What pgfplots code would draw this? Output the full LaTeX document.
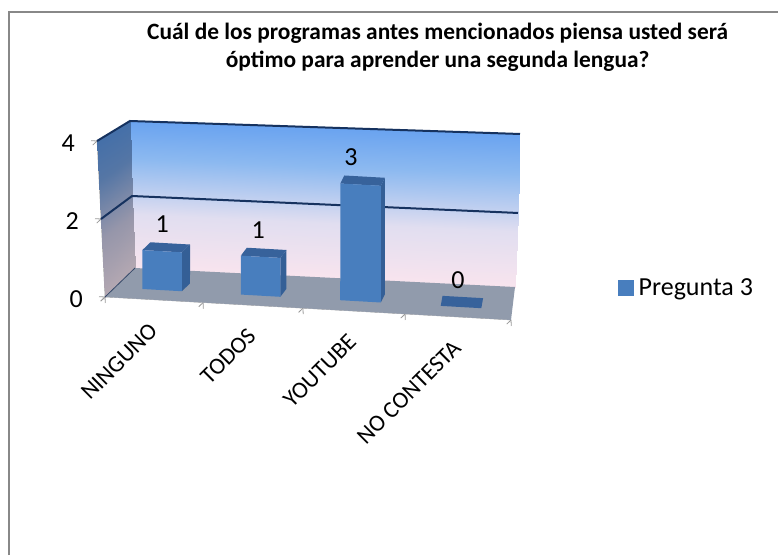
\documentclass[border=0pt]{standalone}
\usepackage{pgfplots}
\pgfplotsset{compat=1.18}
\usepackage{fontspec}
\setmainfont{Carlito}
\definecolor{barfront}{RGB}{72,126,190}
\definecolor{bartop}{RGB}{55,98,155}
\definecolor{barside}{RGB}{52,95,150}
\definecolor{gridnavy}{RGB}{22,50,95}
\definecolor{floorgray}{RGB}{145,155,172}
\definecolor{framegray}{RGB}{136,136,136}
\pgfplotsset{
  colormap={backwall}{rgb255(0)=(248,228,238) rgb255(2)=(225,222,240) rgb255(4)=(140,185,240) rgb255(6)=(88,152,240) rgb255(8)=(75,145,240)},
  colormap={leftwall}{rgb255(0)=(180,168,178) rgb255(2)=(150,150,170) rgb255(4)=(85,118,165) rgb255(6)=(60,108,170) rgb255(8)=(50,105,175)},
}
\begin{document}
\begin{tikzpicture}[x=1pt,y=1pt]
\path[use as bounding box] (0,0) rectangle (778,555);
\draw[framegray,line width=2pt] (9,0) -- (9,543) -- (778,543);
\begin{axis}[
  at={(105pt,258pt)}, anchor=origin,
  x={(101.5pt,-5.75pt)}, y={(30pt,29pt)}, z={(-2pt,39pt)},
  xmin=0, xmax=4, ymin=0, ymax=1, zmin=0, zmax=4,
  clip=false,
  axis lines*=left,
  axis line style={draw=gray!80},
  y axis line style={draw=none},
  /pgf/number format/assume math mode=true,
  xtick={0.49,1.46,2.45,3.48},
  xticklabels={NINGUNO,TODOS,YOUTUBE,NO CONTESTA},
  minor xtick={0,0.966,1.95,2.956,4},
  ytick=\empty,
  ztick={0,2,4},
  major tick length=6pt,
  minor tick length=6pt,
  tick align=outside,
  major x tick style={draw=none},
  tick style={draw=gray!80, line width=0.8pt},
  tick label style={font=\fontsize{26}{28}\selectfont},
  zticklabel style={xshift=-14pt, yshift=6pt},
  xticklabel style={font=\fontsize{23.5}{26}\selectfont, rotate=45, anchor=east, xshift=-10.8pt, yshift=-18.4pt},
  title={Cuál de los programas antes mencionados piensa usted será\\óptimo para aprender una segunda lengua?},
  title style={at={(axis cs:3.41,0,6.75)}, anchor=center, align=center, font=\fontsize{23.4}{28}\selectfont\bfseries},
  legend style={at={(axis cs:5.044,0,0.974)}, anchor=west, draw=none, fill=none, font=\fontsize{26}{28}\selectfont},
  legend image code/.code={\fill[barfront] (0pt,-7.5pt) rectangle (15pt,7.5pt); \path (18pt,0pt);},
]
% walls
\addplot3[surf, shader=interp, colormap name=backwall, mesh/rows=3, mesh/cols=2, point meta=explicit, point meta min=0, point meta max=2, forget plot]
  table[meta=m] {
x y z m
0 1 0 0
3.745 1 0.065 0
0.007 1 1.847 1
3.812 1 1.973 1
0.025 1 3.773 2
3.872 1 4.007 2
};
\addplot3[surf, shader=interp, colormap name=leftwall, mesh/rows=3, mesh/cols=2, point meta=explicit, point meta min=0, point meta max=2, forget plot]
  table[meta=m] {
x y z m
0 0 0 0
0 1 0 0
0 0 2 1
0.007 1 1.847 1
0 0 4 2
0.025 1 3.773 2
};
\addplot3[fill=floorgray, draw=none, forget plot] coordinates {(0,0,0)(4,0,0)(3.745,1,0.065)(0,1,0)};
% grid lines
\addplot3[gridnavy, line width=2pt, forget plot] coordinates {(0,0,4)(0.025,1,3.773)(3.872,1,4.007)};
\addplot3[gridnavy, line width=2pt, forget plot] coordinates {(0,0,2)(0.007,1,1.847)(3.812,1,1.973)};
\addplot3[gridnavy!70!gray, line width=0.8pt, forget plot] coordinates {(0,0,0)(0,1,0)};
% ninguno, value 1
\addplot3[fill=barside, draw=none, forget plot] coordinates {(0.66,0.33,0)(0.66,0.60,0)(0.68,0.60,1)(0.68,0.33,1)};
\addplot3[fill=bartop, draw=none, forget plot] coordinates {(0.29,0.33,1)(0.68,0.33,1)(0.68,0.60,1)(0.29,0.60,1)};
\addplot3[fill=barfront, draw=none, forget plot] coordinates {(0.27,0.33,0)(0.66,0.33,0)(0.68,0.33,1)(0.29,0.33,1)};
% todos, value 1
\addplot3[fill=barside, draw=none, forget plot] coordinates {(1.63,0.33,0)(1.61,0.60,0)(1.63,0.60,1)(1.65,0.33,1)};
\addplot3[fill=bartop, draw=none, forget plot] coordinates {(1.26,0.33,1)(1.65,0.33,1)(1.63,0.60,1)(1.24,0.60,1)};
\addplot3[fill=barfront, draw=none, forget plot] coordinates {(1.24,0.33,0)(1.63,0.33,0)(1.65,0.33,1)(1.26,0.33,1)};
% youtube, value 3
\addplot3[fill=barside, draw=none, forget plot] coordinates {(2.62,0.33,0)(2.58,0.60,0)(2.64,0.60,3)(2.68,0.33,3)};
\addplot3[fill=bartop, draw=none, forget plot] coordinates {(2.28,0.33,3)(2.68,0.33,3)(2.64,0.60,3)(2.24,0.60,3)};
\addplot3[fill=barfront, draw=none, forget plot] coordinates {(2.22,0.33,0)(2.62,0.33,0)(2.68,0.33,3)(2.28,0.33,3)};
% no contesta, value 0
\addplot3[fill=bartop, draw=none, forget plot] coordinates {(3.21,0.33,0)(3.61,0.33,0)(3.53,0.66,0)(3.13,0.66,0)};
% data labels
\addplot3[only marks, mark=none, forget plot, point meta=z, nodes near coords,
  nodes near coords style={anchor=center, yshift=23pt, font=\fontsize{26}{28}\selectfont, /pgf/number format/fixed}]
  coordinates {(0.447,0.46,1)(1.393,0.46,1)(2.347,0.46,3)(3.342,0.46,0)};
\addlegendimage{barfront}
\addlegendentry{Pregunta 3}
\end{axis}
\end{tikzpicture}
\end{document}
